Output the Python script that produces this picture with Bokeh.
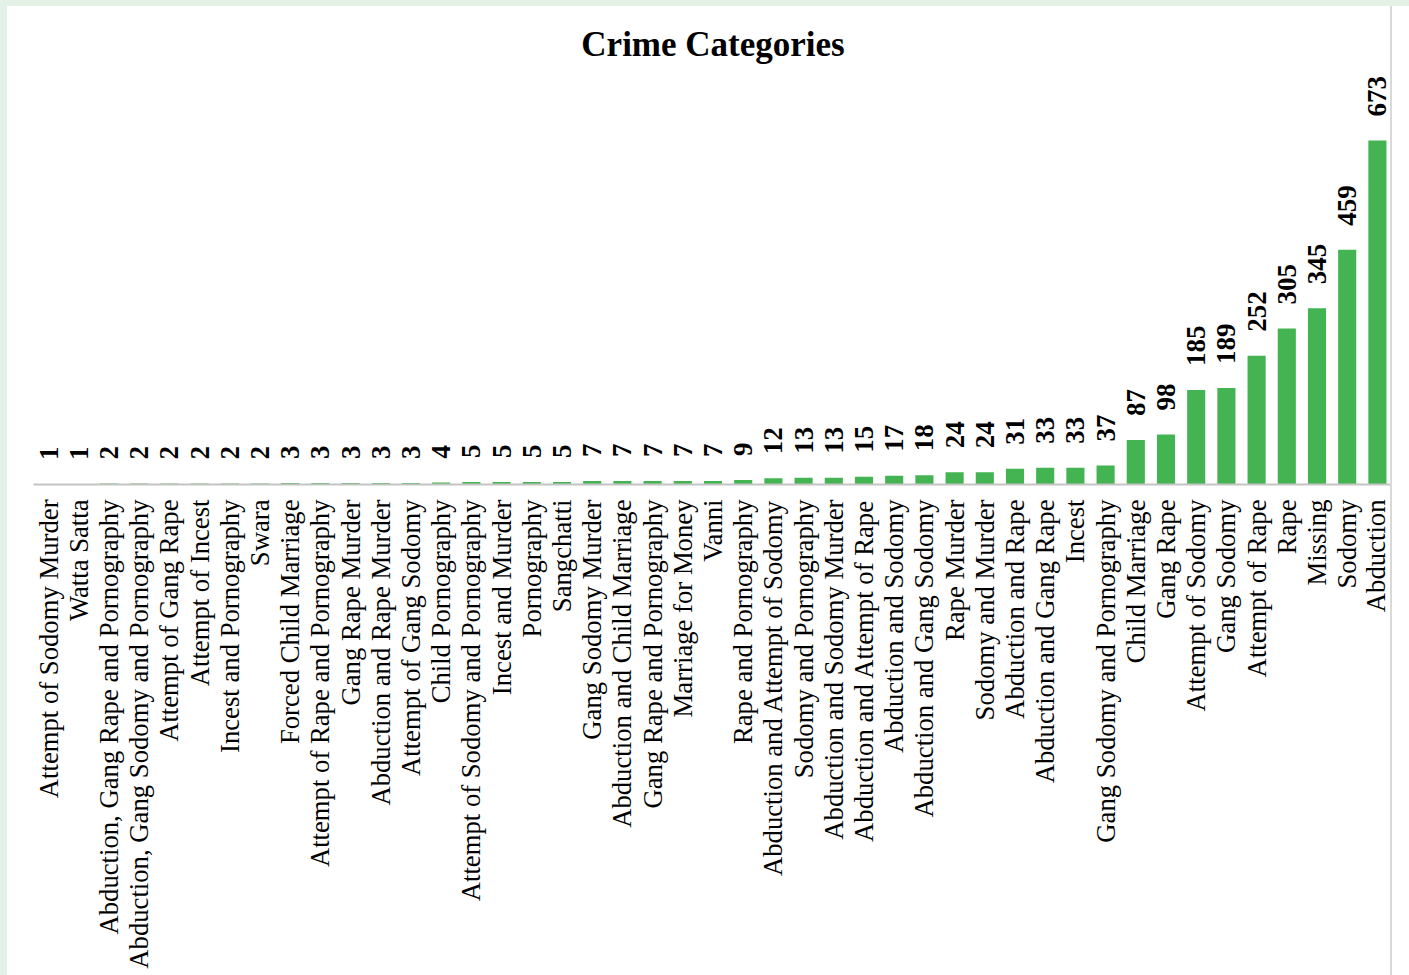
import math
from bokeh.plotting import figure
from bokeh.models import ColumnDataSource, Title, Spacer
from bokeh.layouts import column, row
from bokeh.core.properties import value
from bokeh.embed import file_html
from bokeh.resources import INLINE

categories = [
    "Attempt of Sodomy Murder", "Watta Satta", "Abduction, Gang Rape and Pornography",
    "Abduction, Gang Sodomy and Pornography", "Attempt of Gang Rape", "Attempt of Incest",
    "Incest and Pornography", "Swara", "Forced Child Marriage", "Attempt of Rape and Pornography",
    "Gang Rape Murder", "Abduction and Rape Murder", "Attempt of Gang Sodomy", "Child Pornography",
    "Attempt of Sodomy and Pornography", "Incest and Murder", "Pornography", "Sangchatti",
    "Gang Sodomy Murder", "Abduction and Child Marriage", "Gang Rape and Pornography",
    "Marriage for Money", "Vanni", "Rape and Pornography", "Abduction and Attempt of Sodomy",
    "Sodomy and Pornography", "Abduction and Sodomy Murder", "Abduction and Attempt of Rape",
    "Abduction and Sodomy", "Abduction and Gang Sodomy", "Rape Murder", "Sodomy and Murder",
    "Abduction and Rape", "Abduction and Gang Rape", "Incest", "Gang Sodomy and Pornography",
    "Child Marriage", "Gang Rape", "Attempt of Sodomy", "Gang Sodomy", "Attempt of Rape",
    "Rape", "Missing", "Sodomy", "Abduction",
]
counts = [
    1, 1, 2, 2, 2, 2, 2, 2, 3, 3, 3, 3, 3, 4, 5, 5, 5, 5, 7, 7, 7, 7, 7, 9, 12, 13, 13, 15,
    17, 18, 24, 24, 31, 33, 33, 37, 87, 98, 185, 189, 252, 305, 345, 459, 673,
]
title_text = "Crime Categories"

SERIF = "Liberation Serif"
BAR_COLOR = "#44b452"
PAGE_GREEN = "#e3f1e6"

src = ColumnDataSource(dict(cat=categories, val=counts, lab=[str(v) for v in counts]))

p = figure(
    x_range=categories, y_range=(0, 819.6),
    frame_width=1357, frame_height=419,
    output_backend="svg", toolbar_location=None,
    min_border_left=26, min_border_right=0, min_border_top=59, min_border_bottom=491,
)
p.x_range.range_padding = 0
p.title = Title(text=title_text, align="center", text_font=SERIF,
                text_font_size="35px", text_font_style="bold", text_color="black",
                standoff=3, offset=12)

p.vbar(x="cat", top="val", width=0.6, source=src, fill_color=BAR_COLOR, line_color=None)
p.text(x="cat", y="val", text="lab", source=src, angle=math.pi / 2,
       text_align="left", text_baseline="middle", y_offset=-24,
       text_font=value(SERIF), text_font_size="27px", text_font_style="bold",
       text_color="black")

p.yaxis.visible = False
p.xgrid.grid_line_color = None
p.ygrid.grid_line_color = None
p.outline_line_color = None
p.background_fill_color = "white"
p.border_fill_color = "white"

ax = p.xaxis[0]
ax.major_label_orientation = math.pi / 2
ax.major_label_text_font = SERIF
ax.major_label_text_font_size = "26.7px"
ax.major_label_text_color = "black"
ax.major_label_standoff = 9
ax.major_tick_line_color = None
ax.minor_tick_line_color = None
ax.axis_line_color = "#c4c4c4"
ax.axis_line_width = 2

p.styles = {"border-right": "2px solid #d9d9d9"}

top_strip = Spacer(width=1409, height=6, styles={"background-color": PAGE_GREEN})
left_strip = Spacer(width=7, height=969, styles={"background-color": PAGE_GREEN})

layout = column(top_strip, row(left_strip, p))

open("out.html", "w").write(file_html(layout, INLINE))
